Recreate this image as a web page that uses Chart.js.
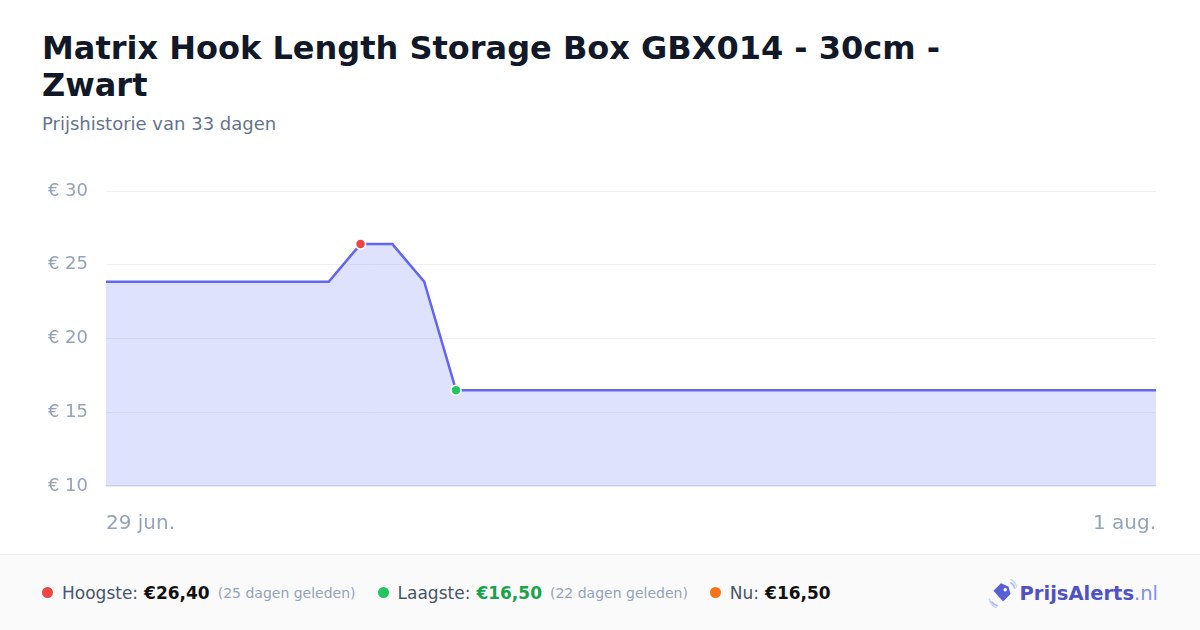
<!DOCTYPE html>
<html>
<head>
<meta charset="utf-8">
<script src="https://cdn.jsdelivr.net/npm/chart.js@4.4.1/dist/chart.umd.min.js"></script>
<style>
    html, body { margin: 0; padding: 0; }
    body {
        width: 1200px; height: 630px; position: relative; overflow: hidden;
        background: #ffffff; font-family: 'DejaVu Sans', sans-serif;
    }
    h1 {
        position: absolute; left: 42px; top: 30px; margin: 0; width: 960px;
        font-size: 32px; line-height: 37px; font-weight: bold; color: #111827;
    }
    .sub {
        position: absolute; left: 42px; top: 113px; font-size: 18px; color: #64748b;
    }
    .chart-wrap { position: absolute; left: 42px; top: 163px; width: 1114px; height: 383px; }
    .footer {
        position: absolute; left: 0; top: 554px; width: 1200px; height: 76px;
        background: #fafafa; border-top: 1px solid #eeeeee; box-sizing: border-box;
        display: flex; align-items: center; padding-left: 42px;
    }
    .item { display: flex; align-items: center; margin-right: 22px; font-size: 17px; color: #475569; }
    .dot { width: 11px; height: 11px; border-radius: 50%; margin-right: 9px; }
    .val { font-weight: bold; color: #111111; margin-left: 6px; }
    .ago { font-size: 14px; color: #94a3b8; margin-left: 8px; }
    .logo {
        position: absolute; right: 42px; top: 578px; display: flex; align-items: center;
        font-size: 19.5px; font-weight: bold; color: #4f52c4;
    }
    .logo .nl { font-weight: normal; color: #818cf8; }
</style>
</head>
<body>
<h1>Matrix Hook Length Storage Box GBX014 - 30cm - Zwart</h1>
<div class="sub">Prijshistorie van 33 dagen</div>
<div class="chart-wrap"><canvas id="chart"></canvas></div>
<div class="footer">
    <div class="item"><span class="dot" style="background:#ef4444"></span>Hoogste:<span class="val">€26,40</span><span class="ago">(25 dagen geleden)</span></div>
    <div class="item"><span class="dot" style="background:#22c55e"></span>Laagste:<span class="val" style="color:#16a34a">€16,50</span><span class="ago">(22 dagen geleden)</span></div>
    <div class="item"><span class="dot" style="background:#f97316"></span>Nu:<span class="val">€16,50</span></div>
</div>
<div class="logo">
    <svg width="30" height="30" viewBox="0 0 28 28" style="margin-right:3px">
        <path d="M4 22 A10 10 0 0 0 10 26" stroke="#a5b4fc" stroke-width="1.5" fill="none"/>
        <path d="M2 19 A13 13 0 0 0 9 28" stroke="#c7d2fe" stroke-width="1.5" fill="none"/>
        <path d="M22 4 A10 10 0 0 1 26 10" stroke="#a5b4fc" stroke-width="1.5" fill="none"/>
        <path d="M22 1 A13 13 0 0 1 28 9" stroke="#c7d2fe" stroke-width="1.5" fill="none"/>
        <path d="M6 12 L13 5 L20 8 L22 15 L15 22 Z" fill="#5b5fd6"/>
        <circle cx="17" cy="11" r="1.6" fill="#ffffff"/>
    </svg>
    <span>PrijsAlerts</span><span class="nl">.nl</span>
</div>
<script>
// Price history data

const LABELS = [
    '29 jun.', '30 jun.',
    '1 jul.', '2 jul.', '3 jul.', '4 jul.', '5 jul.', '6 jul.', '7 jul.', '8 jul.',
    '9 jul.', '10 jul.', '11 jul.', '12 jul.', '13 jul.', '14 jul.', '15 jul.', '16 jul.',
    '17 jul.', '18 jul.', '19 jul.', '20 jul.', '21 jul.', '22 jul.', '23 jul.', '24 jul.',
    '25 jul.', '26 jul.', '27 jul.', '28 jul.', '29 jul.', '30 jul.', '31 jul.',
    '1 aug.',
];

const PRICES = [
    23.85, 23.85, 23.85, 23.85, 23.85, 23.85, 23.85, 23.85,
    26.40, 26.40, 23.85,
    16.50, 16.50, 16.50, 16.50, 16.50, 16.50, 16.50, 16.50, 16.50, 16.50, 16.50, 16.50,
    16.50, 16.50, 16.50, 16.50, 16.50, 16.50, 16.50, 16.50, 16.50, 16.50, 16.50,
];

const Y_TICKS = [10, 15, 20, 25, 30];

// --- Helpers ---

const maxIdx = PRICES.indexOf(Math.max(...PRICES));
const minIdx = PRICES.indexOf(Math.min(...PRICES));

function pointColor(ctx) {
    if (ctx.dataIndex === maxIdx) return '#ef4444';
    if (ctx.dataIndex === minIdx) return '#22c55e';
    return 'rgba(0,0,0,0)';
}

// --- Render ---

const ctx = document.getElementById('chart').getContext('2d');
new Chart(ctx, {
    type: 'line',
    data: {
        labels: LABELS,
        datasets: [{
            data: PRICES,
            borderColor: '#6366f1',
            backgroundColor: 'rgba(110,125,245,0.22)',
            borderWidth: 2.5,
            tension: 0,
            fill: 'start',
            pointRadius: c => (c.dataIndex === maxIdx || c.dataIndex === minIdx) ? 5 : 0,
            pointBackgroundColor: pointColor,
            pointBorderColor: '#ffffff',
            pointBorderWidth: 1.5,
        }],
    },
    options: {
        responsive: true,
        maintainAspectRatio: false,
        animation: false,
        layout: { padding: { top: 28 } },
        plugins: {
            legend: { display: false },
            tooltip: { enabled: false },
        },
        scales: {
            x: {
                grid: { display: false, drawTicks: false },
                border: { display: true, color: '#e2e8f0', width: 1.5 },
                afterFit: s => { s.height = 60; s.paddingLeft = 0; s.paddingRight = 0; },
                ticks: {
                    autoSkip: false,
                    maxRotation: 0,
                    align: 'inner',
                    padding: 26,
                    color: '#94a3b8',
                    font: { family: 'DejaVu Sans', size: 20 },
                    callback: (v, i) => (i === 0 || i === LABELS.length - 1) ? LABELS[i] : '',
                },
            },
            y: {
                min: Y_TICKS[0],
                max: Y_TICKS[Y_TICKS.length - 1],
                afterFit: s => { s.width = 64; s.paddingTop = 0; s.paddingBottom = 0; },
                afterBuildTicks: s => { s.ticks = Y_TICKS.map(v => ({ value: v })); },
                grid: { color: '#f0f0f0', drawTicks: false },
                border: { display: false },
                ticks: {
                    padding: 18,
                    color: '#94a3b8',
                    font: { family: 'DejaVu Sans', size: 18 },
                    callback: v => '€ ' + v,
                },
            },
        },
    },
});
</script>
</body>
</html>
